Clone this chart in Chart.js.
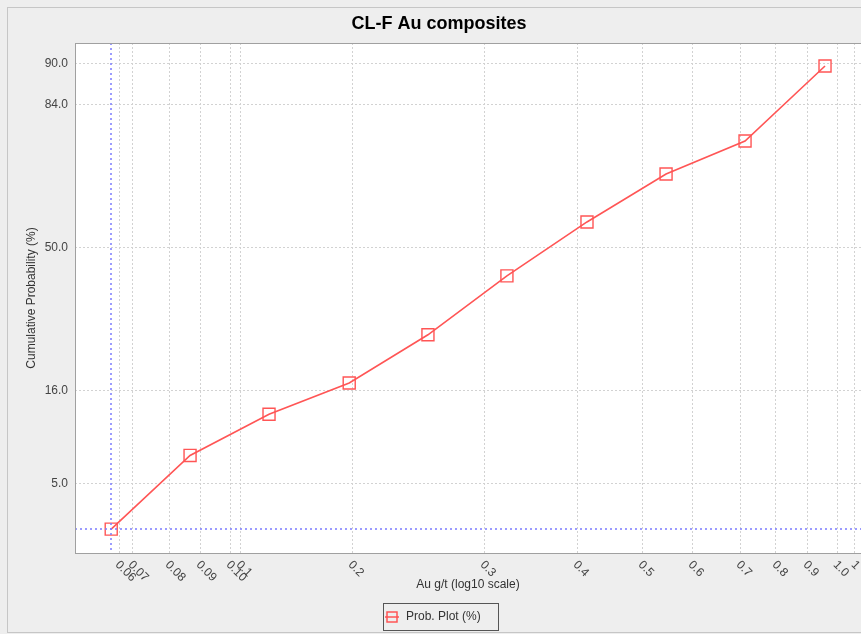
<!DOCTYPE html>
<html>
<head>
<meta charset="utf-8">
<title>CL-F Au composites</title>
<script src="https://cdn.jsdelivr.net/npm/chart.js@4.4.1/dist/chart.umd.min.js"></script>
<style>
  html, body { margin: 0; padding: 0; background: #eeeeee; }
  #wrap { width: 861px; height: 634px; }
</style>
</head>
<body>
<div id="wrap"><canvas id="probChart" width="861" height="634"></canvas></div>
<script>
// composite grades (g/t) and their cumulative probability (%)
const auGrades = [0.0887, 0.1154, 0.1502, 0.1963, 0.2553, 0.3323, 0.4341, 0.5652, 0.7357, 0.9608];
const cumProb = [2.5, 7.4, 12.3, 17.3, 27.2, 42.2, 57.1, 69.6, 77.1, 89.7];

// grid positions along the log axis and the text printed under each
const xTickValues = [0.0911, 0.0951, 0.1076, 0.1193, 0.1319, 0.1364, 0.1982, 0.3079, 0.4200,
                     0.5218, 0.6164, 0.7237, 0.8157, 0.9049, 1.0, 1.0619];
const xTickLabels = ['0.06', '0.07', '0.08', '0.09', '0.10', '0.1', '0.2', '0.3', '0.4',
                     '0.5', '0.6', '0.7', '0.8', '0.9', '1.0', '1'];
const yTickValues = [5, 16, 50, 84, 90];

const xRange = [0.0786, 1.0834];
const yRange = [1.675, 92.29];

const FONT = '"Liberation Sans", Arial, sans-serif';
const RED = '#ff5555';

// inverse normal CDF (Acklam)
function probit(p) {
    const a = [-3.969683028665376e+01, 2.209460984245205e+02, -2.759285104469687e+02,
               1.383577518672690e+02, -3.066479806614716e+01, 2.506628277459239e+00];
    const b = [-5.447609879822406e+01, 1.615858368580409e+02, -1.556989798598866e+02,
               6.680131188771972e+01, -1.328068155288572e+01];
    const c = [-7.784894002430293e-03, -3.223964580411365e-01, -2.400758277161838e+00,
               -2.549732539343734e+00, 4.374664141464968e+00, 2.938163982698783e+00];
    const d = [7.784695709041462e-03, 3.224671290700398e-01, 2.445134137142996e+00,
               3.754408661907416e+00];
    const pLow = 0.02425;
    let q, r;
    if (p < pLow) {
        q = Math.sqrt(-2 * Math.log(p));
        return (((((c[0] * q + c[1]) * q + c[2]) * q + c[3]) * q + c[4]) * q + c[5]) /
               ((((d[0] * q + d[1]) * q + d[2]) * q + d[3]) * q + 1);
    }
    if (p <= 1 - pLow) {
        q = p - 0.5;
        r = q * q;
        return (((((a[0] * r + a[1]) * r + a[2]) * r + a[3]) * r + a[4]) * r + a[5]) * q /
               (((((b[0] * r + b[1]) * r + b[2]) * r + b[3]) * r + b[4]) * r + 1);
    }
    q = Math.sqrt(-2 * Math.log(1 - p));
    return -(((((c[0] * q + c[1]) * q + c[2]) * q + c[3]) * q + c[4]) * q + c[5]) /
            ((((d[0] * q + d[1]) * q + d[2]) * q + d[3]) * q + 1);
}

function normCdf(z) {
    const t = 1 / (1 + 0.3275911 * Math.abs(z) / Math.SQRT2);
    const y = 1 - (((((1.061405429 * t - 1.453152027) * t) + 1.421413741) * t - 0.284496736) * t + 0.254829592) * t *
              Math.exp(-z * z / 2);
    return z >= 0 ? (1 + y) / 2 : (1 - y) / 2;
}

// probability axis: pixels run linear in the normal quantile
class ProbitScale extends Chart.Scale {
    determineDataLimits() {
        this.min = this.options.min;
        this.max = this.options.max;
    }
    buildTicks() {
        return yTickValues.map(v => ({ value: v }));
    }
    configure() {
        super.configure();
        this._zStart = probit(this.min / 100);
        this._zRange = probit(this.max / 100) - this._zStart;
    }
    getLabelForValue(v) {
        return v.toFixed(1);
    }
    getPixelForValue(v) {
        return this.getPixelForDecimal((probit(v / 100) - this._zStart) / this._zRange);
    }
    getValueForPixel(px) {
        return normCdf(this._zStart + this.getDecimalForPixel(px) * this._zRange) * 100;
    }
}
ProbitScale.id = 'probit';
ProbitScale.defaults = {};
Chart.register(ProbitScale);

const panelPlugin = {
    id: 'panel',
    beforeDraw(chart) {
        const { ctx, width, height, chartArea: a } = chart;
        ctx.save();
        ctx.fillStyle = '#eeeeee';
        ctx.fillRect(0, 0, width, height);
        ctx.strokeStyle = '#c6c6c6';
        ctx.lineWidth = 1;
        ctx.strokeRect(7.5, 7.5, width + 10, height - 9);
        ctx.fillStyle = '#ffffff';
        ctx.fillRect(a.left, a.top, a.right - a.left, a.bottom - a.top);
        ctx.restore();
    },
    afterDatasetsDraw(chart) {
        // crosshair through the first point
        const { ctx, chartArea: a, scales } = chart;
        const cx = Math.round(scales.x.getPixelForValue(auGrades[0]));
        const cy = Math.round(scales.y.getPixelForValue(cumProb[0]));
        ctx.save();
        ctx.strokeStyle = '#7b7bff';
        ctx.lineWidth = 1.5;
        ctx.setLineDash([2, 3]);
        ctx.beginPath();
        ctx.moveTo(cx, a.top);
        ctx.lineTo(cx, a.bottom);
        ctx.stroke();
        ctx.beginPath();
        ctx.moveTo(a.left, cy);
        ctx.lineTo(a.right, cy);
        ctx.stroke();
        ctx.restore();
    },
    afterDraw(chart) {
        const { ctx, chartArea: a, scales } = chart;
        ctx.save();
        // plot frame
        ctx.strokeStyle = '#a0a0a0';
        ctx.lineWidth = 1;
        ctx.strokeRect(a.left + 0.5, a.top + 0.5, a.right - a.left, a.bottom - a.top);

        // slanted x tick labels
        ctx.font = '12px ' + FONT;
        ctx.fillStyle = '#444444';
        ctx.textAlign = 'left';
        ctx.textBaseline = 'middle';
        xTickValues.forEach((v, i) => {
            const px = scales.x.getPixelForValue(v);
            ctx.save();
            ctx.translate(px - 2, a.bottom + 10);
            ctx.rotate(Math.PI / 4);
            ctx.fillText(xTickLabels[i], 0, 0);
            ctx.restore();
        });

        // title
        ctx.font = 'bold 18px ' + FONT;
        ctx.fillStyle = '#000000';
        ctx.textAlign = 'center';
        ctx.fillText('CL-F Au composites', 439, 24);

        // legend box
        ctx.strokeStyle = '#555555';
        ctx.strokeRect(383.5, 603.5, 115, 27);
        ctx.strokeStyle = RED;
        ctx.lineWidth = 1.5;
        ctx.beginPath();
        ctx.moveTo(385, 617);
        ctx.lineTo(399, 617);
        ctx.stroke();
        ctx.strokeRect(387, 612, 10, 10);
        ctx.font = '12px ' + FONT;
        ctx.fillStyle = '#333333';
        ctx.textAlign = 'left';
        ctx.fillText('Prob. Plot (%)', 406, 617);
        ctx.restore();
    }
};

const gridStyle = {
    color: '#d2d2d2',
    lineWidth: 1,
    drawTicks: false
};

new Chart(document.getElementById('probChart'), {
    type: 'line',
    data: {
        datasets: [{
            label: 'Prob. Plot (%)',
            data: auGrades.map((g, i) => ({ x: g, y: cumProb[i] })),
            borderColor: RED,
            borderWidth: 1.6,
            tension: 0,
            fill: false,
            pointStyle: 'rect',
            pointRadius: 8.5,
            pointBorderWidth: 1.4,
            pointBorderColor: RED,
            pointBackgroundColor: 'rgba(255,255,255,0)'
        }]
    },
    options: {
        responsive: false,
        animation: false,
        events: [],
        layout: { autoPadding: false, padding: { top: 43, left: 0, right: 0, bottom: 31 } },
        plugins: {
            legend: { display: false },
            tooltip: { enabled: false }
        },
        scales: {
            x: {
                type: 'logarithmic',
                min: xRange[0],
                max: xRange[1],
                afterBuildTicks: axis => {
                    axis.ticks = xTickValues.map(v => ({ value: v }));
                },
                afterFit: axis => { axis.height = 50; },
                ticks: { display: false },
                grid: gridStyle,
                border: { display: false, dash: [2, 2] },
                title: {
                    display: true,
                    text: 'Au g/t (log10 scale)',
                    color: '#333333',
                    font: { family: FONT, size: 12 },
                    padding: { top: 0, bottom: 11 }
                }
            },
            y: {
                type: 'probit',
                min: yRange[0],
                max: yRange[1],
                afterFit: axis => { axis.width = 75; },
                ticks: {
                    autoSkip: false,
                    padding: 7,
                    color: '#444444',
                    font: { family: FONT, size: 12 },
                    callback: v => v.toFixed(1)
                },
                grid: gridStyle,
                border: { display: false, dash: [2, 2] },
                title: {
                    display: true,
                    text: 'Cumulative Probability (%)',
                    color: '#333333',
                    font: { family: FONT, size: 12 },
                    padding: { top: 24, bottom: 0 }
                }
            }
        }
    },
    plugins: [panelPlugin]
});
</script>
</body>
</html>
